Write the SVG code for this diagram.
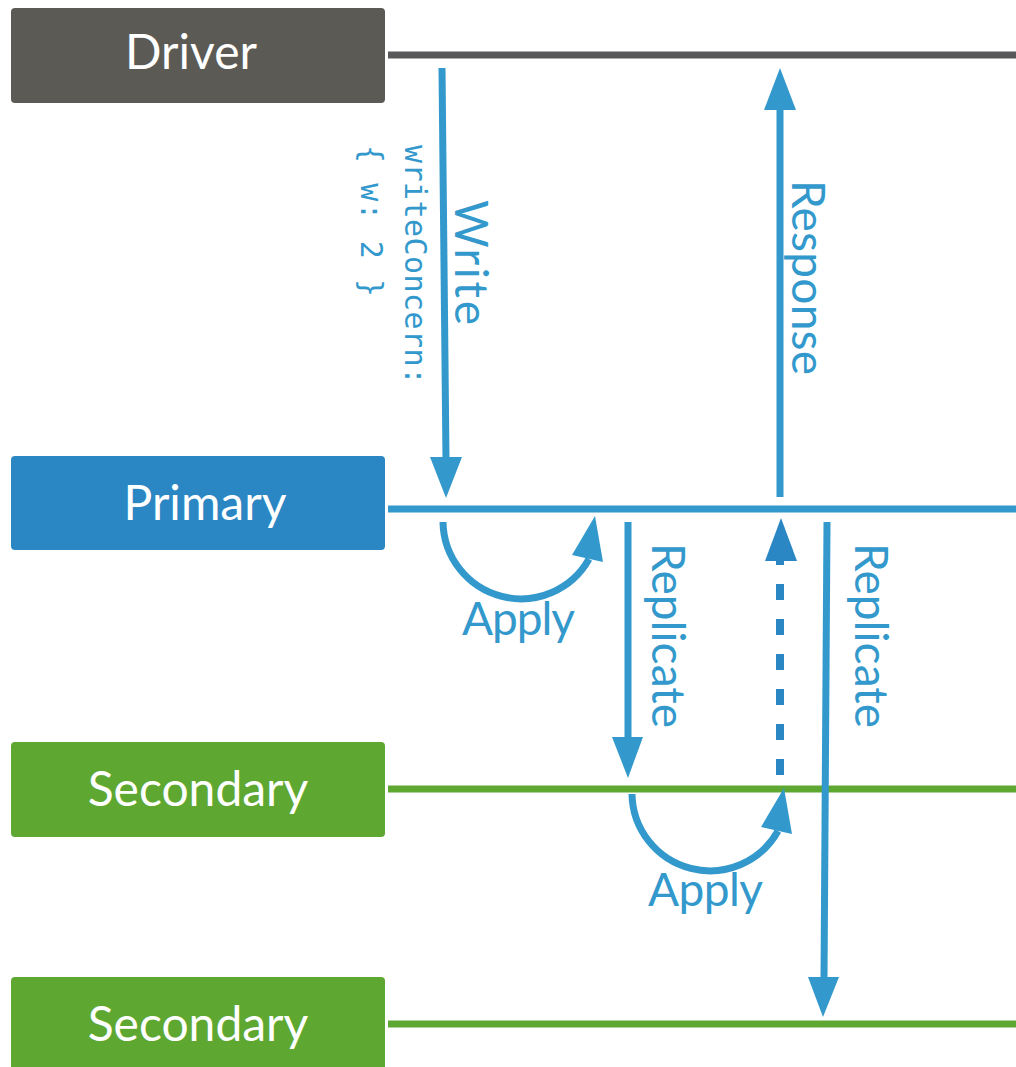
<svg xmlns="http://www.w3.org/2000/svg" width="1016" height="1067" viewBox="0 0 1016 1067">
<style>
.box-label{font-family:Lato,"Open Sans",sans-serif;font-size:48px;fill:#ffffff;text-anchor:middle}
.lbl{font-family:Lato,"Open Sans",sans-serif;font-size:46px;fill:#3399cc}
.mono{font-family:"DejaVu Sans Mono","Liberation Mono",monospace;font-size:30px;fill:#3399cc}
.arrow{stroke:#3399cc;stroke-width:7;fill:none}
.head{fill:#3399cc}
.life{stroke-width:7}
</style>
<rect width="1016" height="1067" fill="#ffffff"/>
<g id="driver">
<rect x="11" y="8" width="374" height="95" rx="4" fill="#5b5a55"/>
<text class="box-label" x="191" y="69">Driver</text>
<line class="life" x1="388" y1="55" x2="1016" y2="55" stroke="#58585a"/>
</g>
<g id="primary">
<rect x="11" y="456" width="374" height="94" rx="4" fill="#2a87c4"/>
<text class="box-label" x="205" y="520">Primary</text>
<line class="life" x1="388" y1="509" x2="1016" y2="509" stroke="#3399cc"/>
</g>
<g id="secondary1">
<rect x="11" y="742" width="374" height="95" rx="4" fill="#5ea832"/>
<text class="box-label" x="198" y="806">Secondary</text>
<line class="life" x1="388" y1="789" x2="1016" y2="789" stroke="#5ea832"/>
</g>
<g id="secondary2">
<rect x="11" y="977" width="374" height="95" rx="4" fill="#5ea832"/>
<text class="box-label" x="198" y="1041">Secondary</text>
<line class="life" x1="388" y1="1024" x2="1016" y2="1024" stroke="#5ea832"/>
</g>
<g id="connectors">
<!-- Write -->
<line class="arrow" x1="442" y1="68" x2="446" y2="460"/>
<polygon class="head" points="430,457 462,457 446,498"/>
<text class="lbl" x="455" y="200" transform="rotate(90 455 200)" textLength="125">Write</text>
<text class="mono" x="405" y="145" transform="rotate(90 405 145)" textLength="240" lengthAdjust="spacing">writeConcern:</text>
<text class="mono" x="361" y="145" transform="rotate(90 361 145)" textLength="152" lengthAdjust="spacing">{ w: 2 }</text>
<!-- Response -->
<line class="arrow" x1="780" y1="497" x2="780" y2="105"/>
<polygon class="head" points="764,110 796,110 780,68"/>
<text class="lbl" x="792" y="180" transform="rotate(90 792 180)" textLength="195">Response</text>
<!-- Apply 1 -->
<path class="arrow" d="M443,522 A78,78 0 0 0 589,559"/>
<polygon class="head" points="595,516 572,555 603,562"/>
<text class="lbl" x="462" y="635" textLength="113">Apply</text>
<!-- Replicate 1 -->
<line class="arrow" x1="628" y1="522" x2="628" y2="740"/>
<polygon class="head" points="612,737 643,737 628,778"/>
<text class="lbl" x="652" y="543" transform="rotate(90 652 543)" textLength="185">Replicate</text>
<!-- Ack dashed -->
<line x1="780" y1="775" x2="780" y2="560" stroke="#2a87c4" stroke-width="8" stroke-dasharray="16 19"/>
<polygon points="765,561 797,561 781,518" fill="#2a87c4"/>
<!-- Replicate 2 -->
<line class="arrow" x1="827" y1="522" x2="824" y2="980"/>
<polygon class="head" points="808,977 839,977 823,1017"/>
<text class="lbl" x="855" y="543" transform="rotate(90 855 543)" textLength="185">Replicate</text>
<!-- Apply 2 -->
<path class="arrow" d="M632,794 A78,78 0 0 0 778,831"/>
<polygon class="head" points="784,788 761,827 792,834"/>
<text class="lbl" x="648" y="906" textLength="115">Apply</text>
</g>
</svg>
